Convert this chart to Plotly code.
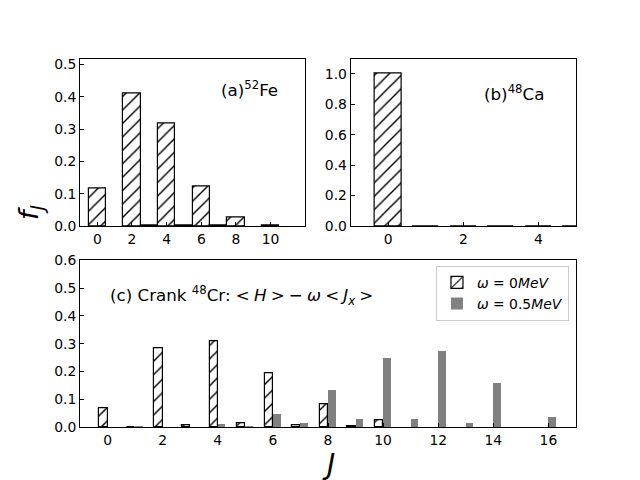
import plotly.graph_objects as go

# Panel (a) 52Fe
J_a = [0, 1, 2, 3, 4, 5, 6, 7, 8, 9, 10]
f_a = [0.117, None, 0.411, 0.002, 0.318, 0.002, 0.122, 0.002, 0.027, None, 0.002]

# Panel (b) 48Ca
J_b = [0, 1, 2, 3, 4, 5]
f_b = [1.0, 0.0, 0.0, 0.0, 0.0, 0.0]

# Panel (c) cranked 48Cr
J_c = list(range(17))
f_c_w0 = [0.068, 0.0, 0.284, 0.007, 0.309, 0.014, 0.194, 0.007, 0.083, 0.002,
          0.026, None, None, None, None, None, None]
f_c_w05 = [0.0, 0.002, 0.0, 0.0, 0.012, 0.004, 0.048, 0.016, 0.134, 0.029,
           0.249, 0.029, 0.274, 0.014, 0.159, 0.0, 0.037]

ticks_a = [0, 2, 4, 6, 8, 10]
ticks_b = [0, 2, 4]
ticks_c = [0, 2, 4, 6, 8, 10, 12, 14, 16]

FONT = "DejaVu Sans"
hatch = dict(shape="/", fgcolor="black", bgcolor="white", size=9.5, solidity=0.15, fgopacity=1)

fig = go.Figure()
fig.add_trace(go.Bar(x=J_a, y=f_a, width=1.0, xaxis="x", yaxis="y",
                     marker=dict(color="white", line=dict(color="black", width=1.2), pattern=hatch),
                     showlegend=False))
fig.add_trace(go.Bar(x=J_b, y=f_b, width=0.7, xaxis="x2", yaxis="y2",
                     marker=dict(color="white", line=dict(color="black", width=1.2), pattern=hatch),
                     showlegend=False))
fig.add_trace(go.Bar(x=J_c, y=f_c_w0, width=0.3, offset=-0.3, xaxis="x3", yaxis="y3",
                     name="<i>ω</i> = 0<i>MeV</i>",
                     marker=dict(color="white", line=dict(color="black", width=1.2), pattern=hatch)))
fig.add_trace(go.Bar(x=J_c, y=f_c_w05, width=0.28, offset=0.0, xaxis="x3", yaxis="y3",
                     name="<i>ω</i> = 0.5<i>MeV</i>",
                     marker=dict(color="#808080", line=dict(width=0))))

ax_common = dict(showline=True, linecolor="black", linewidth=1, mirror=True,
                 ticks="inside", ticklen=4, tickwidth=1, tickcolor="black",
                 showgrid=False, zeroline=False, automargin=False,
                 tickfont=dict(family=FONT, size=13.9, color="black"))

fig.update_layout(
    width=640, height=480, autosize=False,
    margin=dict(l=0, r=0, t=0, b=0, pad=0, autoexpand=False),
    paper_bgcolor="white", plot_bgcolor="white",
    barmode="overlay", bargap=0,
    font=dict(family=FONT, color="black"),
    xaxis=dict(domain=[0.125, 0.477], range=[-1, 12], tickvals=ticks_a, anchor="y", **ax_common),
    yaxis=dict(domain=[0.529, 0.878], range=[0, 0.518], dtick=0.1, tickformat=".1f", anchor="x", **ax_common),
    xaxis2=dict(domain=[0.548, 0.9], range=[-1, 5], tickvals=ticks_b, anchor="y2", **ax_common),
    yaxis2=dict(domain=[0.529, 0.878], range=[0, 1.1], dtick=0.2, tickformat=".1f", anchor="x2", **ax_common),
    xaxis3=dict(domain=[0.125, 0.9], range=[-1, 17], tickvals=ticks_c, anchor="y3", **ax_common),
    yaxis3=dict(domain=[0.11, 0.458], range=[0, 0.6], dtick=0.1, tickformat=".1f", anchor="x3", **ax_common),
    legend=dict(x=0.889, y=0.446, xanchor="right", yanchor="top",
                bgcolor="rgba(255,255,255,0.8)", bordercolor="#cccccc", borderwidth=1,
                font=dict(family=FONT, size=13.9, color="black"),
                itemwidth=30, tracegroupgap=0),
)

sp = "\u2005"
fig.add_annotation(x=7.0, y=0.4245, xref="x", yref="y", xanchor="left", yanchor="middle",
                   text="(a)<sup>52</sup>Fe", showarrow=False,
                   font=dict(family=FONT, size=16.7, color="black"))
fig.add_annotation(x=2.5, y=0.877, xref="x2", yref="y2", xanchor="left", yanchor="middle",
                   text="(b)<sup>48</sup>Ca", showarrow=False,
                   font=dict(family=FONT, size=16.7, color="black"))
fig.add_annotation(x=0.0, y=0.474, xref="x3", yref="y3", xanchor="left", yanchor="middle",
                   text=("(c) Crank <sup>48</sup>Cr: " + "&lt;" + sp + "<i>H</i>" + sp + "&gt;" + sp + "−" + sp
                         + "<i>ω</i>" + sp + "&lt;" + sp + "<i>J<sub>x</sub></i>" + sp + "&gt;"),
                   showarrow=False, font=dict(family=FONT, size=16.7, color="black"))
fig.add_annotation(x=30 / 640, y=1 - 212 / 480, xref="paper", yref="paper",
                   xanchor="center", yanchor="middle",
                   text="<i>f<sub>J</sub></i>", textangle=-90, showarrow=False,
                   font=dict(family=FONT, size=27, color="black"))
fig.add_annotation(x=328 / 640, y=1 - 464 / 480, xref="paper", yref="paper",
                   xanchor="center", yanchor="middle",
                   text="<i>J</i>", showarrow=False,
                   font=dict(family=FONT, size=27.8, color="black"))

fig.write_html("out.html", config={"displayModeBar": False},
               post_script="document.body.style.margin='0';")
